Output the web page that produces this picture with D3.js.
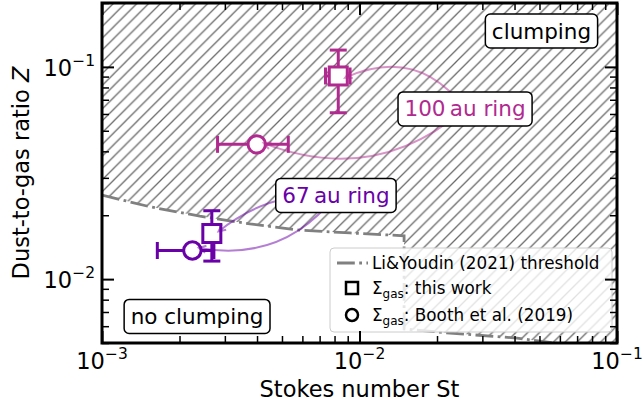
<!DOCTYPE html>
<html>
<head>
<meta charset="utf-8">
<script src="https://d3js.org/d3.v7.min.js"></script>
<style>
  body { margin: 0; background: #fff; }
  svg text { font-family: "DejaVu Sans", sans-serif; }
</style>
</head>
<body>
<div id="chart"></div>
<script>
// ---- data ----
var ringLabel = ["67\u2009au ring", "100\u2009au ring"];
var ringColor = ["#6a00a8", "#b12a90"];

// Sigma_gas: this work (squares)
var workSt     = [0.00267, 0.00827];
var workStLow  = [0.00262, 0.00738];
var workStHigh = [0.00272, 0.00919];
var workZ      = [0.0164, 0.0906];
var workZLow   = [0.01216, 0.0608];
var workZHigh  = [0.0210, 0.120];

// Sigma_gas: Booth et al. (2019) (circles)
var boothSt     = [0.002244, 0.00399];
var boothStLow  = [0.00164, 0.00281];
var boothStHigh = [0.00272, 0.00529];
var boothZ      = [0.01364, 0.04316];

// Li & Youdin (2021) threshold, as drawn
var thrSt = [0.001, 0.00154, 0.0024, 0.00376, 0.00588, 0.00919, 0.0149, 0.0149, 0.0224, 0.0409, 0.0574, 0.1];
var thrZ  = [0.0249, 0.0219, 0.0198, 0.0182, 0.0170, 0.0165, 0.0160, 0.00582, 0.00557, 0.00527, 0.0050, 0.0044];

// where the ring labels and region labels sit (data coords)
var ringLabelSt = [0.0081, 0.0257];
var ringLabelZ  = [0.0248, 0.0634];
var regionText = ["clumping", "no clumping"];
var regionSt   = [0.0509, 0.00234];
var regionZ    = [0.1476, 0.00667];

// axis ticks
var xMajor = [1e-3, 1e-2, 1e-1];
var xTickExp = ["\u22123", "\u22122", "\u22121"];
var yMajor = [1e-2, 1e-1];
var yTickExp = ["\u22122", "\u22121"];
var xMinor = [2e-3,3e-3,4e-3,5e-3,6e-3,7e-3,8e-3,9e-3,2e-2,3e-2,4e-2,5e-2,6e-2,7e-2,8e-2,9e-2];
var yMinor = [5e-3,6e-3,7e-3,8e-3,9e-3,2e-2,3e-2,4e-2,5e-2,6e-2,7e-2,8e-2,9e-2,0.2];

var legendText = ["Li&Youdin (2021) threshold", ": this work", ": Booth et al. (2019)"];

// ---- layout ----
var W = 643, H = 406;
var margin = {left: 102, right: 26, top: 3, bottom: 63};
var pw = W - margin.left - margin.right;
var ph = H - margin.top - margin.bottom;
var fsAxis = 22.5, fsNote = 21.5, fsLegend = 16.8;

var svg = d3.select("#chart").append("svg")
    .attr("width", W)
    .attr("height", H);

var defs = svg.append("defs");
var hs = 11.8;
defs.append("pattern")
    .attr("id", "hatch")
    .attr("patternUnits", "userSpaceOnUse")
    .attr("width", hs).attr("height", hs)
  .append("path")
    .attr("d", "M0," + hs + "L" + hs + ",0M" + (-hs/2) + "," + (hs/2) + "L" + (hs/2) + "," + (-hs/2) +
               "M" + (hs/2) + "," + (hs*1.5) + "L" + (hs*1.5) + "," + (hs/2))
    .attr("stroke", "#6a6a6a")
    .attr("stroke-width", 1.3);

defs.append("clipPath").attr("id", "plotclip")
  .append("rect").attr("width", pw).attr("height", ph);

var g = svg.append("g")
    .attr("transform", "translate(" + margin.left + "," + margin.top + ")");

var x = d3.scaleLog().domain([1e-3, 1e-1]).range([0, pw]);
var y = d3.scaleLog().domain([0.005, 0.2]).range([ph, 0]);

var plot = g.append("g").attr("clip-path", "url(#plotclip)");

// hatched "clumping" region above the threshold
var thr = thrSt.map(function(s, i) { return [s, thrZ[i]]; });
var region = thr.concat([[1e-1, 0.2], [1e-3, 0.2]]);
var line = d3.line().x(function(d) { return x(d[0]); }).y(function(d) { return y(d[1]); });
plot.append("path")
    .attr("d", line(region) + "Z")
    .attr("fill", "url(#hatch)")
    .attr("stroke", "none");

// threshold line
plot.append("path")
    .attr("d", line(thr))
    .attr("fill", "none")
    .attr("stroke", "#808080")
    .attr("stroke-width", 2.8)
    .attr("stroke-dasharray", "17.8,4.4,2.8,4.4");

// ---- error bars ----
var capH = 8.5;
function hbar(lo, hi, yv, col) {
  plot.append("line").attr("x1", x(lo)).attr("x2", x(hi)).attr("y1", y(yv)).attr("y2", y(yv))
      .attr("stroke", col).attr("stroke-width", 3);
  [lo, hi].forEach(function(v) {
    plot.append("line").attr("x1", x(v)).attr("x2", x(v)).attr("y1", y(yv) - capH).attr("y2", y(yv) + capH)
        .attr("stroke", col).attr("stroke-width", 3);
  });
}
function vbar(lo, hi, xv, col) {
  plot.append("line").attr("y1", y(lo)).attr("y2", y(hi)).attr("x1", x(xv)).attr("x2", x(xv))
      .attr("stroke", col).attr("stroke-width", 3);
  [lo, hi].forEach(function(v) {
    plot.append("line").attr("y1", y(v)).attr("y2", y(v)).attr("x1", x(xv) - capH).attr("x2", x(xv) + capH)
        .attr("stroke", col).attr("stroke-width", 3);
  });
}

ringColor.forEach(function(col, i) {
  hbar(workStLow[i], workStHigh[i], workZ[i], col);
  vbar(workZLow[i], workZHigh[i], workSt[i], col);
  plot.append("rect")
      .attr("x", x(workSt[i]) - 9).attr("y", y(workZ[i]) - 9)
      .attr("width", 18).attr("height", 18)
      .attr("fill", "#fff").attr("stroke", col).attr("stroke-width", 3);
});
ringColor.forEach(function(col, i) {
  hbar(boothStLow[i], boothStHigh[i], boothZ[i], col);
  plot.append("circle")
      .attr("cx", x(boothSt[i])).attr("cy", y(boothZ[i])).attr("r", 8.7)
      .attr("fill", "#fff").attr("stroke", col).attr("stroke-width", 3);
});

// ---- ring annotations: curved arrows from label to both markers ----
var arrowRad = [[-0.2, 0.3], [-0.4, 0.3]];
function arcArrow(p0, p2, rad, col) {
  var dx = p2[0] - p0[0], dy = p2[1] - p0[1];
  var len = Math.sqrt(dx*dx + dy*dy);
  // shrink the end a little, like matplotlib's shrinkB
  p2 = [p2[0] - dx / len * 7, p2[1] - dy / len * 7];
  dx = p2[0] - p0[0]; dy = p2[1] - p0[1];
  var c = [(p0[0] + p2[0]) / 2 + rad * dy, (p0[1] + p2[1]) / 2 - rad * dx];
  var p = d3.path();
  p.moveTo(p0[0], p0[1]);
  p.quadraticCurveTo(c[0], c[1], p2[0], p2[1]);
  // open arrow head
  var ux = p2[0] - c[0], uy = p2[1] - c[1];
  var ul = Math.sqrt(ux*ux + uy*uy); ux /= ul; uy /= ul;
  p.moveTo(p2[0] - ux * 7 - uy * 3.5, p2[1] - uy * 7 + ux * 3.5);
  p.lineTo(p2[0], p2[1]);
  p.lineTo(p2[0] - ux * 7 + uy * 3.5, p2[1] - uy * 7 - ux * 3.5);
  g.append("path").attr("d", p.toString())
      .attr("fill", "none").attr("stroke", col).attr("stroke-width", 2).attr("stroke-opacity", 0.5);
}

function textBox(txt, px, py, col, size) {
  var bg = g.append("g");
  var rect = bg.append("rect");
  var t = bg.append("text")
      .attr("x", px).attr("y", py)
      .attr("text-anchor", "middle")
      .attr("dominant-baseline", "central")
      .attr("font-size", size)
      .attr("fill", col)
      .text(txt);
  var b = t.node().getBBox();
  var pad = 6.5;
  rect.attr("x", b.x - pad).attr("y", py - 10.5 - pad)
      .attr("width", b.width + 2 * pad).attr("height", 21 + 2 * pad)
      .attr("rx", 5)
      .attr("fill", "#fff").attr("stroke", "#000").attr("stroke-width", 1.5);
}

ringLabel.forEach(function(lbl, i) {
  var p0 = [x(ringLabelSt[i]), y(ringLabelZ[i])];
  arcArrow(p0, [x(workSt[i]), y(workZ[i])], arrowRad[i][0], ringColor[i]);
  arcArrow(p0, [x(boothSt[i]), y(boothZ[i])], arrowRad[i][1], ringColor[i]);
});
ringLabel.forEach(function(lbl, i) {
  textBox(lbl, x(ringLabelSt[i]), y(ringLabelZ[i]), ringColor[i], fsNote);
});
regionText.forEach(function(lbl, i) {
  textBox(lbl, x(regionSt[i]), y(regionZ[i]), "#000", fsNote);
});

// ---- legend ----
var lg = g.append("g").attr("transform", "translate(" + (pw - 287) + "," + (ph - 95) + ")");
lg.append("rect")
    .attr("width", 282).attr("height", 84).attr("rx", 4)
    .attr("fill", "#fff").attr("fill-opacity", 0.8)
    .attr("stroke", "#cccccc").attr("stroke-width", 1);
var rowY = [15, 40, 67];
lg.append("line").attr("x1", 7).attr("x2", 38).attr("y1", rowY[0]).attr("y2", rowY[0])
    .attr("stroke", "#808080").attr("stroke-width", 2.8)
    .attr("stroke-dasharray", "17.8,4.4,2.8,4.4");
lg.append("rect").attr("x", 16).attr("y", rowY[1] - 6).attr("width", 12).attr("height", 12)
    .attr("fill", "#fff").attr("stroke", "#000").attr("stroke-width", 2.5);
lg.append("circle").attr("cx", 22).attr("cy", rowY[2]).attr("r", 6)
    .attr("fill", "#fff").attr("stroke", "#000").attr("stroke-width", 2.5);
legendText.forEach(function(t, i) {
  var txt = lg.append("text")
      .attr("x", 42).attr("y", rowY[i] + 6)
      .attr("font-size", fsLegend).attr("fill", "#000");
  if (i === 0) {
    txt.text(t);
  } else {
    txt.append("tspan").text("\u03a3");
    txt.append("tspan").attr("dy", 4).attr("font-size", 12).text("gas");
    txt.append("tspan").attr("dy", -4).text(t);
  }
});

// ---- axes: ticks point inward on all four sides ----
function ticks(axisGen, transform, vals, size, width) {
  var a = g.append("g")
      .attr("transform", transform)
      .call(axisGen.tickValues(vals).tickSize(-size).tickSizeOuter(0).tickFormat(""));
  a.select(".domain").remove();
  a.selectAll(".tick line").attr("stroke", "#000").attr("stroke-width", width);
}
ticks(d3.axisBottom(x), "translate(0," + ph + ")", xMajor, 12, 2);
ticks(d3.axisBottom(x), "translate(0," + ph + ")", xMinor, 7, 1.5);
ticks(d3.axisTop(x), "translate(0,0)", xMajor, 12, 2);
ticks(d3.axisTop(x), "translate(0,0)", xMinor, 7, 1.5);
ticks(d3.axisLeft(y), "translate(0,0)", yMajor, 12, 2);
ticks(d3.axisLeft(y), "translate(0,0)", yMinor, 7, 1.5);
ticks(d3.axisRight(y), "translate(" + pw + ",0)", yMajor, 12, 2);
ticks(d3.axisRight(y), "translate(" + pw + ",0)", yMinor, 7, 1.5);

// tick labels as 10^n
xMajor.forEach(function(v, i) {
  var t = g.append("text")
      .attr("x", x(v)).attr("y", ph + 26)
      .attr("text-anchor", "middle").attr("font-size", fsAxis);
  t.append("tspan").text("10");
  t.append("tspan").attr("dy", -10).attr("font-size", 15.5).text(xTickExp[i]);
});
yMajor.forEach(function(v, i) {
  var t = g.append("text")
      .attr("x", -7).attr("y", y(v) + 9)
      .attr("text-anchor", "end").attr("font-size", fsAxis);
  t.append("tspan").text("10");
  t.append("tspan").attr("dy", -10).attr("font-size", 15.5).text(yTickExp[i]);
});

// frame
g.append("rect")
    .attr("width", pw).attr("height", ph)
    .attr("fill", "none").attr("stroke", "#000").attr("stroke-width", 3);

// axis titles
g.append("text")
    .attr("x", pw / 2).attr("y", ph + 54)
    .attr("text-anchor", "middle").attr("font-size", fsAxis)
    .text("Stokes number St");
var yl = g.append("text")
    .attr("transform", "translate(" + (-73) + "," + (ph / 2) + ") rotate(-90)")
    .attr("text-anchor", "middle").attr("font-size", fsAxis);
yl.append("tspan").text("Dust-to-gas ratio ");
yl.append("tspan").attr("font-style", "italic").text("Z");
</script>
</body>
</html>
